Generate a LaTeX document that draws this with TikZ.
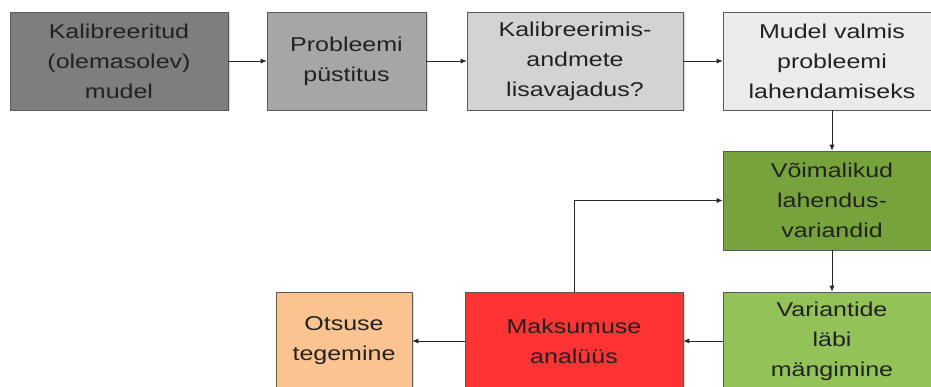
\documentclass[tikz,border=0pt]{standalone}
\usepackage{fontspec}
\setmainfont{Liberation Sans}[FakeStretch=1.25]
\usetikzlibrary{arrows.meta,shadows}
\definecolor{grayA}{HTML}{7E7E7E}
\definecolor{grayB}{HTML}{A6A6A6}
\definecolor{grayC}{HTML}{D3D3D3}
\definecolor{grayD}{HTML}{EBEBEB}
\definecolor{greenA}{HTML}{77A33C}
\definecolor{greenB}{HTML}{93C259}
\definecolor{redA}{HTML}{FF3333}
\definecolor{peach}{HTML}{FAC390}
\definecolor{ink}{HTML}{222222}
\begin{document}
\begin{tikzpicture}[x=1pt,y=-1pt,
  box/.style={draw=black!65, line width=0.6pt, align=center, inner sep=0pt,
    minimum height=98pt, text=ink,
    font=\fontsize{20}{30}\selectfont,
    drop shadow={shadow xshift=1.5pt, shadow yshift=-1.5pt, opacity=0.3}},
  conn/.style={-{Latex[length=6pt,width=5pt]}, line width=0.8pt, draw=black!85}]
  \useasboundingbox (0,0) rectangle (931,387);
  \clip (0,0) rectangle (931,387);

  % top row
  \node[box, fill=grayA, minimum width=218pt] (b1) at (119,61)
    {Kalibreeritud\\(olemasolev)\\mudel};
  \node[box, fill=grayB, minimum width=159pt] (b2) at (346.5,61)
    {Probleemi\\püstitus};
  \node[box, fill=grayC, minimum width=216pt] (b3) at (575,61)
    {Kalibreerimis-\\andmete\\lisavajadus?};
  \node[box, fill=grayD, minimum width=218pt] (b4) at (832,61)
    {Mudel valmis\\probleemi\\lahendamiseks};

  % right column and bottom row
  \node[box, fill=greenA, minimum width=218pt, minimum height=99pt] (b5) at (832,200.5)
    {Võimalikud\\lahendus-\\variandid};
  \node[box, fill=greenB, minimum width=218pt] (b6) at (832,341)
    {Variantide\\läbi\\mängimine};
  \node[box, fill=redA, minimum width=218pt] (b7) at (574,341)
    {Maksumuse\\analüüs};
  \node[box, fill=peach, minimum width=136pt] (b8) at (344,341)
    {Otsuse\\tegemine};

  % connectors
  \draw[conn] (b1) -- (b2);
  \draw[conn] (b2) -- (b3);
  \draw[conn] (b3) -- (b4);
  \draw[conn] (b4) -- (b5);
  \draw[conn] (b5) -- (b6);
  \draw[conn] (b6) -- (b7);
  \draw[conn] (b7) -- (b8);
  \draw[conn] (b7.north) |- (b5.west);
\end{tikzpicture}
\end{document}
